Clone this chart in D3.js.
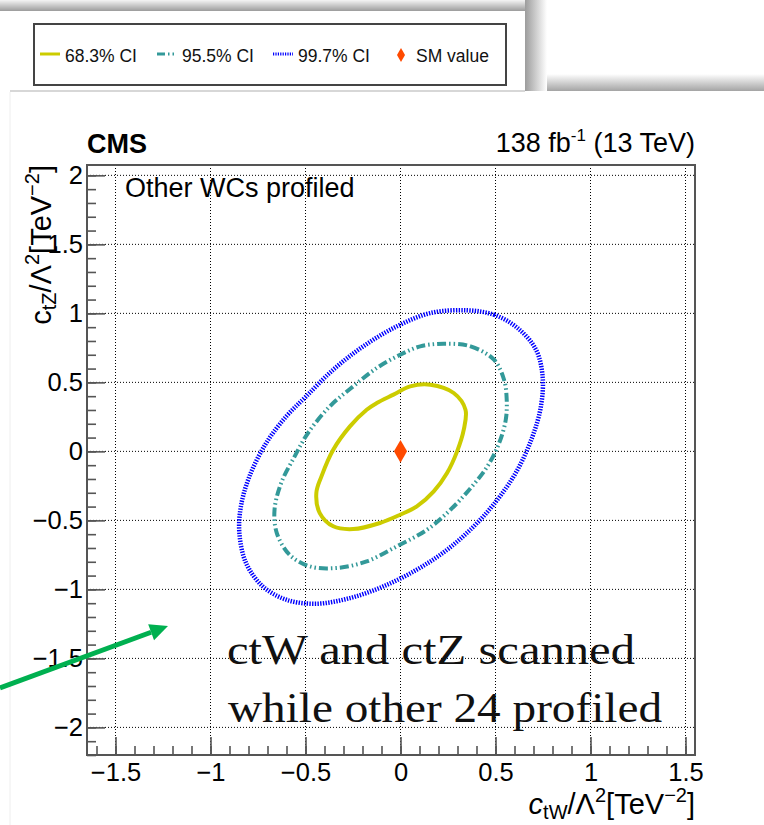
<!DOCTYPE html>
<html>
<head>
<meta charset="utf-8">
<script src="https://cdn.jsdelivr.net/npm/d3@7"></script>
<style>
  html, body { margin: 0; padding: 0; background: #fff; }
  svg text { font-family: "Liberation Sans", Arial, Helvetica, sans-serif; }
</style>
</head>
<body>
<div id="chart"></div>
<script>
// ---- data ----
const xTicks = [-1.5, -1, -0.5, 0, 0.5, 1, 1.5];
const xTickLabels = ["\u22121.5", "\u22121", "\u22120.5", "0", "0.5", "1", "1.5"];
const yTicks = [-2, -1.5, -1, -0.5, 0, 0.5, 1, 1.5, 2];
const yTickLabels = ["\u22122", "\u22121.5", "\u22121", "\u22120.5", "0", "0.5", "1", "1.5", "2"];

const legendLabels = ["68.3% CI", "95.5% CI", "99.7% CI", "SM value"];

// 68.3% CI contour (ctW, ctZ)
const ci68 = [
  [0.157, 0.483], [0.280, 0.423], [0.342, 0.302], [0.333, 0.157], [0.298, 0.000],
  [0.245, -0.157], [0.175, -0.290], [0.086, -0.399], [-0.002, -0.459], [-0.108, -0.519],
  [-0.249, -0.563], [-0.354, -0.543], [-0.425, -0.447], [-0.443, -0.302], [-0.416, -0.181],
  [-0.354, 0.012], [-0.266, 0.181], [-0.178, 0.302], [-0.125, 0.350], [-0.037, 0.411],
  [0.051, 0.471]
];
// 95.5% CI contour
const ci95 = [
  [0.228, 0.780], [0.369, 0.761], [0.492, 0.664], [0.545, 0.519], [0.559, 0.374],
  [0.554, 0.229], [0.519, 0.060], [0.457, -0.109], [0.369, -0.266], [0.263, -0.423],
  [0.139, -0.568], [-0.019, -0.688], [-0.178, -0.797], [-0.337, -0.845], [-0.478, -0.833],
  [-0.584, -0.749], [-0.651, -0.592], [-0.663, -0.423], [-0.628, -0.229], [-0.557, -0.036],
  [-0.487, 0.133], [-0.372, 0.326], [-0.249, 0.471], [-0.125, 0.604], [-0.002, 0.700],
  [0.104, 0.761]
];
// 99.7% CI contour
const ci99 = [
  [0.351, 1.022], [0.492, 0.990], [0.616, 0.894], [0.713, 0.737], [0.748, 0.543],
  [0.739, 0.326], [0.695, 0.109], [0.616, -0.133], [0.510, -0.350], [0.386, -0.543],
  [0.245, -0.713], [0.086, -0.857], [-0.090, -0.978], [-0.266, -1.063], [-0.443, -1.104],
  [-0.601, -1.075], [-0.725, -0.978], [-0.813, -0.809], [-0.848, -0.592], [-0.840, -0.399],
  [-0.795, -0.181], [-0.707, 0.060], [-0.601, 0.254], [-0.496, 0.399], [-0.354, 0.592],
  [-0.196, 0.761], [-0.019, 0.906], [0.157, 1.002]
];
const smPoint = [[0, 0]];

// ---- setup ----
const W = 764, H = 825;
const frame = { left: 87, right: 695, top: 165, bottom: 755 };

const svg = d3.select("#chart").append("svg")
  .attr("width", W)
  .attr("height", H);

const defs = svg.append("defs");
function vGrad(id, c0, c1) {
  const g = defs.append("linearGradient").attr("id", id)
    .attr("x1", 0).attr("y1", 0).attr("x2", 0).attr("y2", 1);
  g.append("stop").attr("offset", "0%").attr("stop-color", c0);
  g.append("stop").attr("offset", "100%").attr("stop-color", c1);
}
function hGrad(id, c0, c1) {
  const g = defs.append("linearGradient").attr("id", id)
    .attr("x1", 0).attr("y1", 0).attr("x2", 1).attr("y2", 0);
  g.append("stop").attr("offset", "0%").attr("stop-color", c0);
  g.append("stop").attr("offset", "100%").attr("stop-color", c1);
}
vGrad("shadowTop", "#f4f4f4", "#9c9c9c");
vGrad("shadowBand", "#ffffff", "#a4a4a4");
hGrad("shadowSide", "#9c9c9c", "#ffffff");

// slide shadows around the pasted legend
svg.append("rect").attr("x", 0).attr("y", 0).attr("width", 525).attr("height", 11)
  .attr("fill", "url(#shadowTop)");
svg.append("rect").attr("x", 525).attr("y", 74).attr("width", W - 525).attr("height", 17)
  .attr("fill", "url(#shadowBand)");
svg.append("rect").attr("x", 525).attr("y", 0).attr("width", 22).attr("height", 91)
  .attr("fill", "url(#shadowSide)");
svg.append("rect").attr("x", 10).attr("y", 11).attr("width", 515).attr("height", 80)
  .attr("fill", "#fff");
svg.append("line").attr("x1", 10).attr("x2", 525).attr("y1", 91).attr("y2", 91)
  .attr("stroke", "#b0b0b0").attr("stroke-width", 1.2);
svg.append("line").attr("x1", 10).attr("x2", 10).attr("y1", 92).attr("y2", H)
  .attr("stroke", "#eeeeee").attr("stroke-width", 1);

// ---- legend ----
const colors = ["#cccc00", "#339999", "#0000ff", "#ff4a00"];
const dashes = [null, "8 3 1.5 3 1.5 3", "1.2 1.2", null];
const widths = [3, 3, 3, 0];

const legend = svg.append("g");
legend.append("rect")
  .attr("x", 34).attr("y", 24).attr("width", 472).attr("height", 61)
  .attr("fill", "#fff").attr("stroke", "#444").attr("stroke-width", 2);

const legX = [40, 157, 273, 394];
legendLabels.forEach((lab, i) => {
  const g = legend.append("g").attr("transform", `translate(${legX[i]},0)`);
  if (i < 3) {
    g.append("line").attr("x1", 0).attr("x2", 20).attr("y1", 54).attr("y2", 54)
      .attr("stroke", colors[i]).attr("stroke-width", widths[i])
      .attr("stroke-dasharray", dashes[i]);
  } else {
    g.append("path").attr("d", d3.symbol(d3.symbolDiamond, 56)())
      .attr("transform", "translate(7,55)").attr("fill", colors[3]);
  }
  g.append("text").attr("x", i < 3 ? 25 : 22).attr("y", 62)
    .attr("font-size", 17.5).attr("fill", "#111").text(lab);
});

// ---- plot ----
const x = d3.scaleLinear().domain([-1.65, 1.55]).range([frame.left, frame.right]);
const y = d3.scaleLinear().domain([-2.2, 2.075]).range([frame.bottom, frame.top]);

// grid
const grid = svg.append("g")
  .attr("stroke", "#000").attr("stroke-width", 1).attr("stroke-dasharray", "1 2");
grid.selectAll(".gx").data(xTicks).join("line")
  .attr("x1", d => x(d)).attr("x2", d => x(d))
  .attr("y1", frame.top).attr("y2", frame.bottom);
grid.selectAll(".gy").data(yTicks).join("line")
  .attr("y1", d => y(d)).attr("y2", d => y(d))
  .attr("x1", frame.left).attr("x2", frame.right);

// minor ticks
const xMinor = d3.range(-16, 16).map(i => i / 10);
const yMinor = d3.range(-22, 21).map(i => i / 10);

const axisColor = "#555";
function styleAxis(g) {
  g.select(".domain").remove();
  g.selectAll(".tick line").attr("stroke", axisColor).attr("stroke-width", 1.6);
}

svg.append("g").attr("transform", `translate(0,${frame.bottom})`)
  .call(d3.axisBottom(x).tickValues(xMinor).tickSizeInner(-9).tickSizeOuter(0).tickFormat(""))
  .call(styleAxis);
svg.append("g").attr("transform", `translate(${frame.left},0)`)
  .call(d3.axisLeft(y).tickValues(yMinor).tickSizeInner(-9).tickSizeOuter(0).tickFormat(""))
  .call(styleAxis);

const tickFont = 25.5;
const xAxis = svg.append("g").attr("transform", `translate(0,${frame.bottom})`)
  .call(d3.axisBottom(x).tickValues(xTicks).tickSizeInner(-18).tickSizeOuter(0)
    .tickPadding(8).tickFormat((d, i) => xTickLabels[i]))
  .call(styleAxis);
xAxis.selectAll("text").attr("font-size", tickFont).attr("fill", "#000")
  .attr("font-family", "Liberation Sans, Arial, sans-serif");

const yAxis = svg.append("g").attr("transform", `translate(${frame.left},0)`)
  .call(d3.axisLeft(y).tickValues(yTicks).tickSizeInner(-18).tickSizeOuter(0)
    .tickPadding(4).tickFormat((d, i) => yTickLabels[i]))
  .call(styleAxis);
yAxis.selectAll("text").attr("font-size", tickFont).attr("fill", "#000")
  .attr("font-family", "Liberation Sans, Arial, sans-serif");

// frame
svg.append("rect")
  .attr("x", frame.left).attr("y", frame.top)
  .attr("width", frame.right - frame.left).attr("height", frame.bottom - frame.top)
  .attr("fill", "none").attr("stroke", axisColor).attr("stroke-width", 2);

// contours
const line = d3.line().x(d => x(d[0])).y(d => y(d[1])).curve(d3.curveCatmullRomClosed.alpha(0.5));
const contours = [
  { pts: ci99, color: colors[2], w: 4.5, dash: "1.4 1.3" },
  { pts: ci95, color: colors[1], w: 4, dash: "9 3 1.5 3 1.5 3" },
  { pts: ci68, color: colors[0], w: 4, dash: null }
];
svg.append("g").selectAll("path").data(contours).join("path")
  .attr("d", d => line(d.pts))
  .attr("fill", "none")
  .attr("stroke", d => d.color)
  .attr("stroke-width", d => d.w)
  .attr("stroke-dasharray", d => d.dash);

// SM value
svg.append("g").selectAll("path").data(smPoint).join("path")
  .attr("d", d3.symbol(d3.symbolDiamond, 150)())
  .attr("transform", d => `translate(${x(d[0])},${y(d[1])})`)
  .attr("fill", colors[3]);

// ---- texts ----
svg.append("text").attr("x", frame.left).attr("y", 153)
  .attr("font-size", 27).attr("font-weight", "bold").text("CMS");

const lumi = svg.append("text").attr("x", frame.right).attr("y", 152)
  .attr("text-anchor", "end").attr("font-size", 27);
lumi.append("tspan").text("138 fb");
lumi.append("tspan").attr("font-size", 17).attr("dy", -11).text("-1");
lumi.append("tspan").attr("dy", 11).text(" (13 TeV)");

svg.append("text").attr("x", 125).attr("y", 197)
  .attr("font-size", 27).text("Other WCs profiled");

// x title
const xt = svg.append("text").attr("x", frame.right).attr("y", 814)
  .attr("text-anchor", "end").attr("font-size", 29);
xt.append("tspan").attr("font-style", "italic").text("c");
xt.append("tspan").attr("font-size", 20).attr("dy", 5).text("tW");
xt.append("tspan").attr("dy", -5).text("/\u039b");
xt.append("tspan").attr("font-size", 20).attr("dy", -12).text("2");
xt.append("tspan").attr("dy", 12).text("[TeV");
xt.append("tspan").attr("font-size", 20).attr("dy", -12).text("\u22122");
xt.append("tspan").attr("dy", 12).text("]");

// y title
const yt = svg.append("text")
  .attr("transform", `translate(51,${frame.top}) rotate(-90)`)
  .attr("text-anchor", "end").attr("font-size", 29);
yt.append("tspan").text("c");
yt.append("tspan").attr("font-size", 20).attr("dy", 5).text("tZ");
yt.append("tspan").attr("dy", -5).text("/\u039b");
yt.append("tspan").attr("font-size", 20).attr("dy", -12).text("2");
yt.append("tspan").attr("dy", 12).text("[TeV");
yt.append("tspan").attr("font-size", 20).attr("dy", -12).text("\u22122");
yt.append("tspan").attr("dy", 12).text("]");

// ---- slide annotation ----
const note = svg.append("g")
  .attr("font-family", "Liberation Serif, 'Times New Roman', serif")
  .attr("font-size", 42).attr("fill", "#111");
note.append("text").attr("x", 227).attr("y", 664)
  .attr("textLength", 408).attr("lengthAdjust", "spacingAndGlyphs")
  .style("font-family", "Liberation Serif, serif")
  .text("ctW and ctZ scanned");
note.append("text").attr("x", 228).attr("y", 722)
  .attr("textLength", 434).attr("lengthAdjust", "spacingAndGlyphs")
  .style("font-family", "Liberation Serif, serif")
  .text("while other 24 profiled");

// green arrow
const arrowColor = "#00b050";
const ax0 = 0, ay0 = 688, ax1 = 168, ay1 = 626;
const ang = Math.atan2(ay1 - ay0, ax1 - ax0);
const headL = 18, headW = 8.5;
const bx = ax1 - headL * Math.cos(ang), by = ay1 - headL * Math.sin(ang);
svg.append("line")
  .attr("x1", ax0).attr("y1", ay0).attr("x2", bx).attr("y2", by)
  .attr("stroke", arrowColor).attr("stroke-width", 5);
svg.append("path")
  .attr("d", `M${ax1},${ay1}L${bx - headW * Math.sin(ang)},${by + headW * Math.cos(ang)}L${bx + headW * Math.sin(ang)},${by - headW * Math.cos(ang)}Z`)
  .attr("fill", arrowColor);
</script>
</body>
</html>
